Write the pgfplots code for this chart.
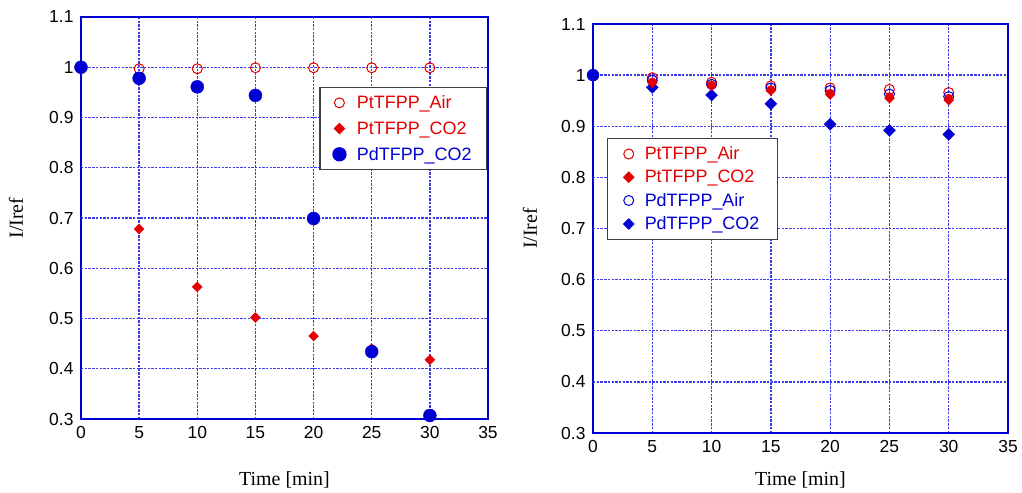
\documentclass[border=0pt]{standalone}
\usepackage{pgfplots}
\pgfplotsset{compat=1.18}
\usepackage{fontspec}
\setmainfont{Liberation Serif}
\newfontfamily\arial{Liberation Sans}
\definecolor{cred}{RGB}{228,0,0}
\definecolor{cblue}{RGB}{0,0,210}
\definecolor{gblue}{RGB}{60,60,235}
\pgfplotsset{
  myaxis/.style={
    scale only axis,
    xmin=0, xmax=35, ymin=0.3, ymax=1.1,
    xtick={0,5,10,15,20,25,30,35},
    ytick={0.3,0.4,0.5,0.6,0.7,0.8,0.9,1,1.1},
    yticklabel style={/pgf/number format/fixed, xshift=-4bp},
    xticklabel style={yshift=-4bp},
    axis line style={cblue, line width=1.3bp},
    grid=major,
    grid style={gblue, line width=1.3bp, dash pattern=on 2.4bp off 1.3bp},
    major tick length=0pt,
    ticklabel style={font=\arial\fontsize{17.5}{19}\selectfont, black},
    /pgf/number format/assume math mode=true,
    label style={font=\fontsize{20}{22}\selectfont, black},
    xlabel={Time [min]}, ylabel={I/Iref},
    legend cell align=left,
    legend style={draw=black!75, line width=1.3bp, fill=white,
      font=\arial\fontsize{18}{21}\selectfont, row sep=7.5bp,
      inner xsep=13bp, inner ysep=6bp,
      /tikz/every odd column/.append style={column sep=9bp}},
    only marks,
  },
  oc/.style={mark=o, mark size=5bp, mark options={draw=#1, line width=1bp}},
  fc/.style={mark=*, mark size=#1, mark options={draw=cblue, fill=cblue}},
  dm/.style={mark=square*, mark size=3.5bp, mark options={rotate=45, draw=#1, fill=#1}},
}
\begin{document}
\begin{tikzpicture}
\useasboundingbox (0,0) rectangle (1022bp,493bp);
% ---------------- left ----------------
\begin{axis}[myaxis, at={(81bp,74bp)}, anchor=south west,
  width=407bp, height=402bp,
  xlabel style={at={(axis description cs:0.5,-0.152)}, anchor=center},
  ylabel style={at={(axis description cs:-0.16,0.5)}, anchor=center},
  legend style={at={(axis description cs:0.998,0.826)}, anchor=north east},
]
\addplot+[oc=cred] coordinates {(0,1) (5,0.997) (10,0.997) (15,0.999) (20,0.999) (25,0.999) (30,0.999)};
\addlegendentry{\textcolor{cred}{PtTFPP\_Air}}
\addplot+[dm=cred] coordinates {(0,1) (5,0.678) (10,0.563) (15,0.502) (20,0.465) (25,0.44) (30,0.418)};
\addlegendentry{\textcolor{cred}{PtTFPP\_CO2}}
\addplot+[fc=6.5bp] coordinates {(0,1) (5,0.978) (10,0.961) (15,0.944) (20,0.699) (25,0.434) (30,0.307)};
\addlegendentry{\textcolor{cblue}{PdTFPP\_CO2}}
\end{axis}
% ---------------- right ----------------
\begin{axis}[myaxis, at={(593bp,60bp)}, anchor=south west,
  width=415bp, height=409bp,
  xlabel style={at={(axis description cs:0.5,-0.115)}, anchor=center},
  ylabel style={at={(axis description cs:-0.152,0.5)}, anchor=center},
  legend style={at={(axis description cs:0.034,0.721)}, anchor=north west, row sep=5bp, inner xsep=16bp},
]
\addlegendimage{only marks, oc=cred}
\addlegendentry{\textcolor{cred}{PtTFPP\_Air}}
\addlegendimage{only marks, dm=cred}
\addlegendentry{\textcolor{cred}{PtTFPP\_CO2}}
\addlegendimage{only marks, oc=cblue}
\addlegendentry{\textcolor{cblue}{PdTFPP\_Air}}
\addlegendimage{only marks, dm=cblue}
\addlegendentry{\textcolor{cblue}{PdTFPP\_CO2}}
\addplot+[forget plot, dm=cblue, mark size=4.2bp] coordinates {(0,1) (5,0.976) (10,0.961) (15,0.944) (20,0.904) (25,0.892) (30,0.884)};
\addplot+[forget plot, oc=cred] coordinates {(0,1) (5,0.995) (10,0.986) (15,0.979) (20,0.975) (25,0.972) (30,0.966)};
\addplot+[forget plot, oc=cblue] coordinates {(0,1) (5,0.990) (10,0.982) (15,0.975) (20,0.970) (25,0.963) (30,0.958)};
\addplot+[forget plot, dm=cred] coordinates {(0,1) (5,0.985) (10,0.979) (15,0.970) (20,0.962) (25,0.955) (30,0.951)};
\addplot+[forget plot, mark=*, mark size=4bp, mark options={draw=cred, fill=cred}] coordinates {(5,0.987) (10,0.981) (15,0.972) (20,0.965) (25,0.958) (30,0.955)};
\addplot+[forget plot, fc=6bp] coordinates {(0,1)};
\end{axis}
\end{tikzpicture}
\end{document}
